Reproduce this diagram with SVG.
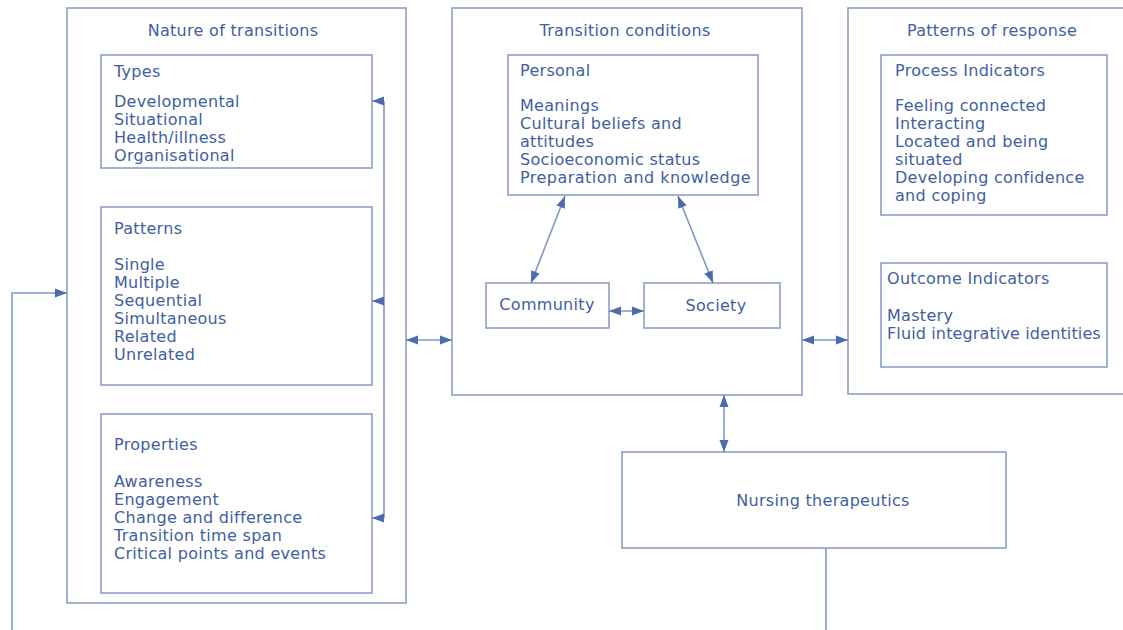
<svg xmlns="http://www.w3.org/2000/svg" width="1123" height="630" viewBox="0 0 1123 630">
<style>
.box{fill:none;stroke:#8c9ecb;stroke-width:1.6}
.t{font-family:"DejaVu Sans","Liberation Sans",sans-serif;font-size:16px;fill:#41609f;letter-spacing:0.3px}
.c{text-anchor:middle}
.ln{fill:none;stroke:#8097c8;stroke-width:1.6}
</style>
<defs>
<marker id="ah" markerUnits="userSpaceOnUse" markerWidth="12" markerHeight="10" viewBox="0 0 12 10" refX="12" refY="5" orient="auto-start-reverse">
<path d="M0,0.5 L12,5 L0,9.5 z" fill="#4d6bab"/>
</marker>
</defs>
<rect width="1123" height="630" fill="#ffffff"/>

<g id="nature">
<rect class="box" x="67" y="8" width="339" height="595"/>
<text class="t c" x="233" y="36">Nature of transitions</text>
</g>
<g id="types">
<rect class="box" x="101" y="55" width="271" height="113"/>
<text class="t" x="114" y="77">Types</text>
<text class="t" x="114" y="107">Developmental</text>
<text class="t" x="114" y="125">Situational</text>
<text class="t" x="114" y="143">Health/illness</text>
<text class="t" x="114" y="161">Organisational</text>
</g>
<g id="patterns">
<rect class="box" x="101" y="207" width="271" height="178"/>
<text class="t" x="114" y="234">Patterns</text>
<text class="t" x="114" y="270">Single</text>
<text class="t" x="114" y="288">Multiple</text>
<text class="t" x="114" y="306">Sequential</text>
<text class="t" x="114" y="324">Simultaneous</text>
<text class="t" x="114" y="342">Related</text>
<text class="t" x="114" y="360">Unrelated</text>
</g>
<g id="properties">
<rect class="box" x="101" y="414" width="271" height="179"/>
<text class="t" x="114" y="450">Properties</text>
<text class="t" x="114" y="487">Awareness</text>
<text class="t" x="114" y="505">Engagement</text>
<text class="t" x="114" y="523">Change and difference</text>
<text class="t" x="114" y="541">Transition time span</text>
<text class="t" x="114" y="559">Critical points and events</text>
</g>

<g id="conditions">
<rect class="box" x="452" y="8" width="350" height="387"/>
<text class="t c" x="625" y="36">Transition conditions</text>
</g>
<g id="personal">
<rect class="box" x="508" y="55" width="250" height="140"/>
<text class="t" x="520" y="76">Personal</text>
<text class="t" x="520" y="111">Meanings</text>
<text class="t" x="520" y="129">Cultural beliefs and</text>
<text class="t" x="520" y="147">attitudes</text>
<text class="t" x="520" y="165">Socioeconomic status</text>
<text class="t" x="520" y="183" textLength="231" lengthAdjust="spacing">Preparation and knowledge</text>
</g>
<g id="community">
<rect class="box" x="486" y="283" width="123" height="45"/>
<text class="t c" x="547" y="310">Community</text>
</g>
<g id="society">
<rect class="box" x="644" y="283" width="136" height="45"/>
<text class="t c" x="716" y="311">Society</text>
</g>

<g id="response">
<rect class="box" x="848" y="8" width="290" height="386"/>
<text class="t c" x="992" y="36">Patterns of response</text>
</g>
<g id="process">
<rect class="box" x="881" y="55" width="226" height="160"/>
<text class="t" x="895" y="76">Process Indicators</text>
<text class="t" x="895" y="111">Feeling connected</text>
<text class="t" x="895" y="129">Interacting</text>
<text class="t" x="895" y="147">Located and being</text>
<text class="t" x="895" y="165">situated</text>
<text class="t" x="895" y="183">Developing confidence</text>
<text class="t" x="895" y="201">and coping</text>
</g>
<g id="outcome">
<rect class="box" x="881" y="263" width="226" height="104"/>
<text class="t" x="887" y="284">Outcome Indicators</text>
<text class="t" x="887" y="321">Mastery</text>
<text class="t" x="887" y="339" textLength="214" lengthAdjust="spacing">Fluid integrative identities</text>
</g>

<g id="nursing">
<rect class="box" x="622" y="452" width="384" height="96"/>
<text class="t c" x="823" y="506">Nursing therapeutics</text>
</g>

<g id="connectors">
<path class="ln" d="M384,101 V518"/>
<path class="ln" d="M384,101 H372" marker-end="url(#ah)"/>
<path class="ln" d="M384,301 H372" marker-end="url(#ah)"/>
<path class="ln" d="M384,518 H372" marker-end="url(#ah)"/>
<path class="ln" d="M406,340 H452" marker-start="url(#ah)" marker-end="url(#ah)"/>
<path class="ln" d="M802,340 H848" marker-start="url(#ah)" marker-end="url(#ah)"/>
<path class="ln" d="M609,311 H644" marker-start="url(#ah)" marker-end="url(#ah)"/>
<path class="ln" d="M565,196 L531,283" marker-start="url(#ah)" marker-end="url(#ah)"/>
<path class="ln" d="M678,196 L713,283" marker-start="url(#ah)" marker-end="url(#ah)"/>
<path class="ln" d="M724,395 V452" marker-start="url(#ah)" marker-end="url(#ah)"/>
<path class="ln" d="M826,548 V640 H12 V293 H67" marker-end="url(#ah)"/>
</g>
</svg>
